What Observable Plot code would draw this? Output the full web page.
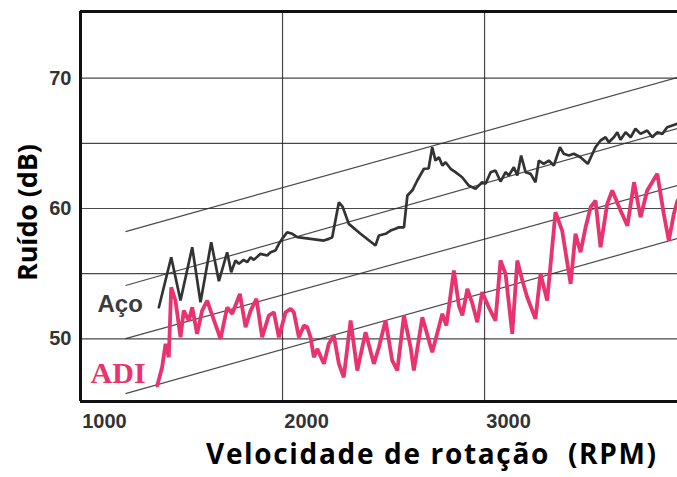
<!DOCTYPE html>
<html>
<head>
<meta charset="utf-8">
<script src="https://cdn.jsdelivr.net/npm/d3@7"></script>
<script src="https://cdn.jsdelivr.net/npm/@observablehq/plot@0.6"></script>
<style>
  body { margin: 0; background: #fff; }
  svg { white-space: pre; }
</style>
</head>
<body>
<div id="chart"></div>
<script>
// Ruído (dB) medido em função da velocidade de rotação, para engrenagens de aço e de ADI
const rpmAco = [1388,1449,1495,1553,1594,1647,1685,1726,1746,1767,1784,1808,1825,1842,1858,1891,1924,1941,1965,1982,1998,2023,2048,2073,2139,2205,2229,2246,2279,2297,2328,2386,2460,2477,2510,2535,2559,2576,2601,2618,2642,2667,2700,2723,2741,2757,2774,2791,2807,2832,2856,2889,2922,2955,2988,3005,3030,3054,3079,3104,3120,3145,3162,3181,3203,3228,3252,3269,3293,3318,3343,3373,3392,3417,3442,3475,3511,3549,3574,3599,3615,3640,3657,3673,3698,3723,3747,3772,3805,3830,3855,3880,3904,3929,3954];
const dbAco = [52.42,56.26,52.94,57.03,52.81,57.41,54.42,56.64,55.11,56.01,55.76,56.06,55.88,56.26,56.06,56.52,56.39,56.65,56.78,57.29,57.67,58.18,58.06,57.80,57.67,57.54,57.67,57.80,60.48,60.15,58.82,58.06,57.16,57.93,58.06,58.31,58.44,58.56,58.56,61.00,61.38,62.15,63.05,63.07,64.70,63.68,63.94,63.30,63.55,63.05,62.79,62.40,61.76,61.51,62.02,61.90,62.79,62.92,62.07,62.79,62.53,63.17,62.53,64.07,62.79,62.66,62.02,63.68,63.43,63.68,63.30,64.70,64.20,64.07,64.20,63.94,63.43,64.70,65.22,65.47,65.09,65.47,65.86,65.27,65.86,65.47,66.12,65.73,65.99,65.47,65.86,65.73,66.24,66.37,66.50];

const rpmAdi = [1380,1404,1421,1437,1449,1470,1495,1511,1536,1553,1577,1602,1627,1644,1693,1726,1751,1789,1817,1842,1871,1899,1932,1957,1982,2015,2040,2056,2081,2106,2122,2139,2155,2172,2205,2229,2254,2279,2303,2337,2370,2411,2452,2477,2510,2543,2568,2601,2634,2650,2692,2741,2791,2811,2848,2873,2890,2915,2940,2964,2988,3021,3054,3079,3104,3137,3162,3187,3211,3252,3277,3310,3351,3384,3426,3450,3475,3500,3525,3549,3574,3607,3632,3673,3707,3740,3772,3805,3855,3887,3912,3937,3955];
const dbAdi = [46.41,47.82,49.62,48.59,53.96,52.94,50.12,52.17,51.40,52.42,50.38,52.17,52.94,52.17,50.00,52.42,51.92,53.45,50.89,52.17,53.07,50.12,51.79,52.04,50.12,52.04,52.30,52.04,50.12,51.02,50.89,50.12,48.59,49.23,48.08,49.62,50.25,48.08,47.05,51.40,47.57,50.51,48.08,49.35,51.40,48.33,47.57,51.79,49.35,47.57,51.66,48.97,51.92,51.02,55.24,52.55,51.79,53.84,52.69,51.27,53.58,52.42,51.40,56.01,54.99,50.38,56.01,54.47,53.19,51.53,54.99,52.94,59.72,58.31,54.22,58.06,56.65,58.56,60.10,60.61,57.03,60.36,61.38,59.85,58.69,62.02,59.33,61.38,62.66,59.59,57.54,59.59,60.61];

// Retas de referência inclinadas (início e fim em RPM, nível em dB)
const guideRpmStart = 1223;
const guideRpmEnd = 3955;
const guideDbStart = [58.23, 54.09, 50.02, 45.80];
const guideDbEnd = [70.05, 66.14, 61.76, 57.70];

const xTicks = [1000, 2000, 3000];
const yTicks = [50, 60, 70];
const yGrid = [50, 55, 60, 65, 70];
const xGrid = [2000, 3000];

const xDomain = [1000, 3955];
const yDomain = [45.19, 75.12];

const aco = rpmAco.map((x, i) => ({x, y: dbAco[i]}));
const adi = rpmAdi.map((x, i) => ({x, y: dbAdi[i]}));
const guides = guideDbStart.map((y1, i) => ({x1: guideRpmStart, y1, x2: guideRpmEnd, y2: guideDbEnd[i]}));

const sans = "'Open Sans', 'Noto Sans', sans-serif";
const tickFont = "'Liberation Sans', Arial, sans-serif";

const chart = Plot.plot({
  width: 677,
  height: 477,
  marginLeft: 80,
  marginRight: 0,
  marginTop: 11,
  marginBottom: 76,
  x: {domain: xDomain},
  y: {domain: yDomain},
  style: {background: "#fff", overflow: "visible"},
  marks: [
    Plot.gridY(yGrid, {stroke: "#1a1a1a", strokeOpacity: 0.8, strokeWidth: 1.2}),
    Plot.gridX(xGrid, {stroke: "#1a1a1a", strokeOpacity: 0.8, strokeWidth: 1.2}),
    Plot.link(guides, {x1: "x1", y1: "y1", x2: "x2", y2: "y2", stroke: "#2a2a2a", strokeOpacity: 0.85, strokeWidth: 1.2}),
    Plot.line(aco, {x: "x", y: "y", stroke: "#333", strokeWidth: 2.7, strokeLinejoin: "miter"}),
    Plot.line(adi, {x: "x", y: "y", stroke: "#e8336f", strokeWidth: 3.8, strokeLinejoin: "miter"}),
    Plot.ruleX([xDomain[0]], {stroke: "#111", strokeWidth: 3}),
    Plot.ruleY(yDomain, {stroke: "#111", strokeWidth: 3}),
    Plot.axisX(xTicks, {tickSize: 0, tickPadding: 12, dx: 24, tickFormat: d => String(d), fontSize: 20, fontWeight: "bold", fontFamily: tickFont, color: "#333", label: null}),
    Plot.axisY(yTicks, {tickSize: 0, tickPadding: 9, tickFormat: d => String(d), fontSize: 20, fontWeight: "bold", fontFamily: tickFont, color: "#333", label: null}),
    Plot.text(["Aço"], {x: 1084, y: 52.09, text: d => d, textAnchor: "start", lineAnchor: "bottom", fontSize: 24, fontWeight: "bold", fontFamily: tickFont, fill: "#3c3c3c"}),
    Plot.text(["ADI"], {x: 1050, y: 46.64, text: d => d, textAnchor: "start", lineAnchor: "bottom", fontSize: 30, fontWeight: "bold", fontFamily: "'Liberation Serif', 'Times New Roman', serif", fill: "#e8336f"}),
    Plot.text(["Velocidade de rotação  (RPM)"], {className: "x-title", frameAnchor: "bottom", dx: 52, dy: 62, text: d => d, fontSize: 28, fontWeight: "bold", fontFamily: sans, fill: "#000"}),
    Plot.text(["Ruído (dB)"], {className: "y-title", x: 742, y: 59.69, rotate: -90, text: d => d, fontSize: 27, fontWeight: "bold", fontFamily: sans, fill: "#000"})
  ]
});

// Ajusta o comprimento dos títulos dos eixos
d3.select(chart).select(".x-title text").attr("textLength", 450).attr("lengthAdjust", "spacing");
d3.select(chart).select(".y-title text").attr("textLength", 137).attr("lengthAdjust", "spacing");

document.getElementById("chart").append(chart);
</script>
</body>
</html>
